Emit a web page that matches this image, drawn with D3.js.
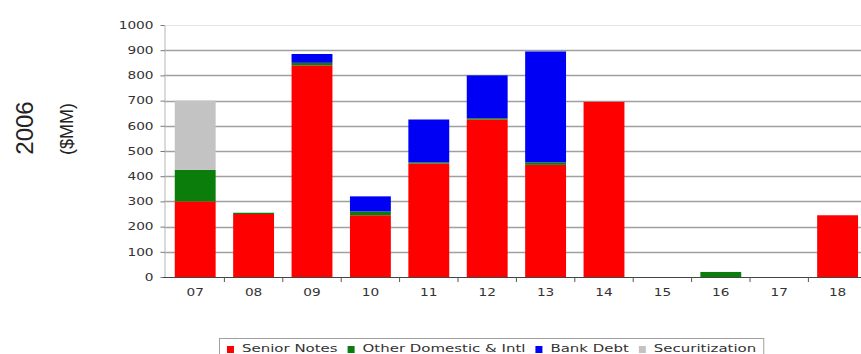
<!DOCTYPE html>
<html>
<head>
<meta charset="utf-8">
<script src="https://cdn.jsdelivr.net/npm/d3@7"></script>
<style>
  html, body { margin: 0; padding: 0; background: #fff; }
  svg { display: block; }
</style>
</head>
<body>
<svg id="chart" width="861" height="354"></svg>
<script>
// Debt maturity schedule, 2006 ($MM)
const categories = ["07", "08", "09", "10", "11", "12", "13", "14", "15", "16", "17", "18"];
const seniorNotes    = [300, 250, 840, 245, 450, 625, 445, 695, 0, 0,  0, 245];
const otherDomestic  = [125,   5,  10,  15,   5,   5,  10,   0, 0, 20, 0,   0];
const bankDebt       = [  0,   0,  35,  60, 170, 170, 440,   0, 0, 0,  0,   0];
const securitization = [275,   0,   0,   0,   0,   0,   0,   0, 0, 0,  0,   0];
const seriesNames = ["Senior Notes", "Other Domestic & Intl", "Bank Debt", "Securitization"];
const seriesColors = ["#ff0000", "#0a7d0a", "#0000f5", "#c3c3c3"];
const yTicks = [0, 100, 200, 300, 400, 500, 600, 700, 800, 900, 1000];

const rows = categories.map((c, i) => ({
  cat: c,
  "Senior Notes": seniorNotes[i],
  "Other Domestic & Intl": otherDomestic[i],
  "Bank Debt": bankDebt[i],
  "Securitization": securitization[i]
}));

const svg = d3.select("#chart");
const plotLeft = 166, step = 58.4;
const x = d3.scaleBand()
  .domain(categories)
  .range([plotLeft, plotLeft + step * categories.length])
  .paddingInner(0.3)
  .paddingOuter(0.15);
const y = d3.scaleLinear().domain([0, 1000]).range([277, 25]);

// horizontally widened small text
function widen(sel, k) {
  sel.each(function () {
    const w = this.getComputedTextLength();
    this.setAttribute("textLength", w * k);
    this.setAttribute("lengthAdjust", "spacingAndGlyphs");
  });
}

// gridlines
svg.append("g")
  .selectAll("line")
  .data(yTicks.filter(v => v > 0))
  .join("line")
  .attr("x1", 164).attr("x2", 861)
  .attr("y1", d => Math.round(y(d)) + 0.5).attr("y2", d => Math.round(y(d)) + 0.5)
  .attr("stroke", d => d === 1000 ? "#e6e6e6" : "#a0a0a0")
  .attr("stroke-width", d => d === 1000 ? 1 : 1.5);

// stacked bars
const stack = d3.stack().keys(seriesNames);
const layers = stack(rows);
svg.append("g")
  .selectAll("g")
  .data(layers)
  .join("g")
  .attr("fill", (d, i) => seriesColors[i])
  .selectAll("rect")
  .data(d => d.filter(s => s[1] - s[0] > 0))
  .join("rect")
  .attr("x", d => x(d.data.cat))
  .attr("width", x.bandwidth())
  .attr("y", d => y(d[1]))
  .attr("height", d => y(d[0]) - y(d[1]));

// y axis
const yAxis = svg.append("g")
  .attr("transform", "translate(164.5,0)")
  .call(d3.axisLeft(y).tickValues(yTicks).tickFormat(d3.format("d"))
    .tickSize(4).tickPadding(7).tickSizeOuter(0));
yAxis.select(".domain").attr("stroke", "#b5b5b5");
yAxis.selectAll(".tick line").attr("stroke", "#777");
yAxis.selectAll("text")
  .attr("font-family", "DejaVu Sans, Verdana, sans-serif")
  .attr("font-size", 10.5)
  .attr("fill", "#333")
  .call(widen, 1.3);

// x axis
const xAxis = svg.append("g")
  .attr("transform", "translate(0,277.5)")
  .call(d3.axisBottom(x).tickSize(0).tickPadding(11).tickSizeOuter(0));
xAxis.select(".domain").attr("stroke", "#444").attr("d", "M163,0H861");
xAxis.selectAll("text")
  .attr("font-family", "DejaVu Sans, Verdana, sans-serif")
  .attr("font-size", 10.5)
  .attr("fill", "#333")
  .call(widen, 1.3);

// category boundary ticks
svg.append("g")
  .selectAll("line")
  .data(categories.slice(1))
  .join("line")
  .attr("x1", d => x(d) - x.step() * x.paddingInner() / 2)
  .attr("x2", d => x(d) - x.step() * x.paddingInner() / 2)
  .attr("y1", 277).attr("y2", 282)
  .attr("stroke", "#555");

// side titles
svg.append("text")
  .attr("transform", "translate(24,128) rotate(-90)")
  .attr("text-anchor", "middle")
  .attr("dominant-baseline", "central")
  .attr("font-family", "Liberation Sans, Arial, sans-serif")
  .attr("font-size", 24)
  .attr("fill", "#222")
  .text("2006");
svg.append("text")
  .attr("transform", "translate(67,129) rotate(-90)")
  .attr("text-anchor", "middle")
  .attr("dominant-baseline", "central")
  .attr("font-family", "Liberation Sans, Arial, sans-serif")
  .attr("font-size", 18)
  .attr("fill", "#222")
  .text("($MM)");

// legend
const LX = 1.36;
const legend = svg.append("g");
const legendBox = legend.append("rect")
  .attr("y", 338.5).attr("height", 19)
  .attr("fill", "#fff").attr("stroke", "#a0a0a0");
let lx = 227;
const legendStart = lx;
seriesNames.forEach((name, i) => {
  legend.append("rect")
    .attr("x", lx).attr("y", 346)
    .attr("width", 7).attr("height", 7)
    .attr("fill", seriesColors[i]);
  const t = legend.append("text")
    .attr("x", lx + 15).attr("y", 352)
    .attr("font-family", "DejaVu Sans, Verdana, sans-serif")
    .attr("font-size", 11)
    .attr("fill", "#333")
    .text(name);
  const w = t.node().getComputedTextLength() * LX;
  t.call(widen, LX);
  lx = lx + 15 + w + (i < seriesNames.length - 1 ? 10 : 8);
});
legendBox.attr("x", legendStart - 7.5).attr("width", lx - legendStart + 7);
</script>
</body>
</html>
